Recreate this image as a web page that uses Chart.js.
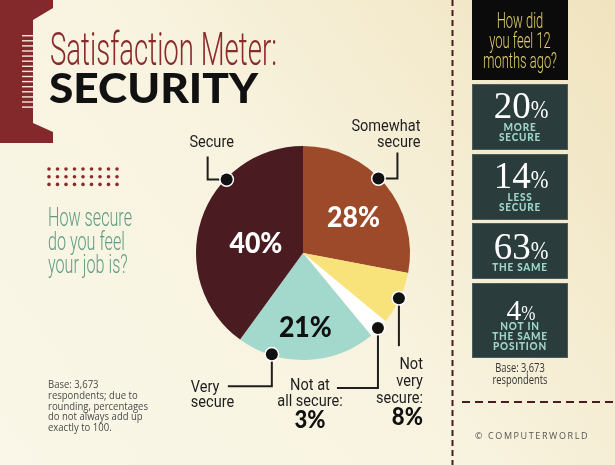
<!doctype html>
<html>

<head>
	<title>Satisfaction Meter: Security</title>
	<script src="https://cdn.jsdelivr.net/npm/chart.js@4"></script>
	<style>
		body { margin: 0; }
		#holder { position: relative; width: 615px; height: 465px; }
	</style>
</head>

<body>
	<div id="holder">
		<canvas id="chart-area" width="615" height="465"></canvas>
	</div>
	<script>
		// pie data, clockwise from 12 o'clock
		var categories = ['Somewhat secure', 'Not very secure', 'Not at all secure', 'Very secure', 'Secure'];
		var shares = [28, 8, 3, 21, 40];
		var sliceColors = ['#9C4A2A', '#F8E27A', '#FFFFFF', '#A3D9CC', '#4A1C22'];
		var calloutText = [['Somewhat', 'secure'], ['Not', 'very', 'secure:'], ['Not at', 'all secure:'], ['Very', 'secure'], ['Secure']];

		// right panel: how did you feel 12 months ago
		var pastValues = [20, 14, 63, 4];
		var pastLabels = [['MORE', 'SECURE'], ['LESS', 'SECURE'], ['THE SAME'], ['NOT IN', 'THE SAME', 'POSITION']];

		function txt(ctx, s, x, y, font, color, align, sx, ls) {
			ctx.save();
			ctx.font = font;
			ctx.fillStyle = color;
			ctx.textAlign = align || 'left';
			ctx.textBaseline = 'alphabetic';
			ctx.letterSpacing = (ls || 0) + 'px';
			ctx.translate(x, y);
			ctx.scale(sx || 1, 1);
			ctx.fillText(s, 0, 0);
			ctx.restore();
		}

		function fit(ctx, s, font, w, ls) {
			ctx.save();
			ctx.font = font;
			ctx.letterSpacing = (ls || 0) + 'px';
			var m = ctx.measureText(s).width;
			ctx.restore();
			return w / m;
		}

		var decor = {
			id: 'decor',
			beforeDraw: function(chart) {
				var ctx = chart.ctx;
				var g = ctx.createLinearGradient(615, 0, 0, 465);
				g.addColorStop(0, '#F0E3BE');
				g.addColorStop(0.5, '#F8F3DF');
				g.addColorStop(1, '#FAF7E8');
				ctx.fillStyle = g;
				ctx.fillRect(0, 0, 615, 465);

				// red band at left
				ctx.fillStyle = '#84292B';
				ctx.beginPath();
				ctx.moveTo(0, 0); ctx.lineTo(53, 0); ctx.lineTo(53, 8); ctx.lineTo(33, 20);
				ctx.lineTo(33, 123); ctx.lineTo(53, 132); ctx.lineTo(53, 143); ctx.lineTo(0, 143);
				ctx.closePath();
				ctx.fill();
				ctx.fillStyle = '#F5E9DC';
				for (var i = 0; i < 15; i++) {
					ctx.fillRect(22, 35 + i * 5.1, 11, 1.4);
				}

				// dot grid
				ctx.fillStyle = '#8A2A2A';
				for (var r = 0; r < 3; r++) {
					for (var c = 0; c < 9; c++) {
						ctx.beginPath();
						ctx.arc(49 + c * 8.5, 169 + r * 7.7, 1.8, 0, Math.PI * 2);
						ctx.fill();
					}
				}

				// titles
				txt(ctx, 'Satisfaction Meter:', 50, 65, '300 46px Roboto', '#8A2A2A', 'left', fit(ctx, 'Satisfaction Meter:', '300 46px Roboto', 227));
				txt(ctx, 'SECURITY', 49, 103, '900 41px Lato', '#111111', 'left', fit(ctx, 'SECURITY', '900 41px Lato', 209));

				var qf = '300 26px Roboto';
				var qs = fit(ctx, 'How secure', qf, 84);
				txt(ctx, 'How secure', 48, 226, qf, '#5F9B82', 'left', qs);
				txt(ctx, 'do you feel', 48, 250, qf, '#5F9B82', 'left', qs);
				txt(ctx, 'your job is?', 48, 273, qf, '#5F9B82', 'left', qs);

				var bf = '11.5px "Open Sans"';
				var bs = fit(ctx, 'rounding, percentages', bf, 100);
				var base = ['Base: 3,673', 'respondents; due to', 'rounding, percentages', 'do not always add up', 'exactly to 100.'];
				base.forEach(function(l, k) {
					txt(ctx, l, 48, 388 + k * 10.8, bf, '#4A4A4A', 'left', bs);
				});

				// right panel
				ctx.save();
				ctx.strokeStyle = '#4A1C22';
				ctx.lineWidth = 2;
				ctx.setLineDash([6, 4]);
				ctx.beginPath(); ctx.moveTo(452.5, 0); ctx.lineTo(452.5, 465); ctx.stroke();
				ctx.setLineDash([8, 5]);
				ctx.beginPath(); ctx.moveTo(462, 402); ctx.lineTo(615, 402); ctx.stroke();
				ctx.restore();

				ctx.fillStyle = '#0B0B0B';
				ctx.fillRect(472, 0, 96, 80);
				var hf = '300 22px Roboto';
				var hs = fit(ctx, 'months ago?', hf, 74);
				txt(ctx, 'How did', 520, 28, hf, '#E3D06C', 'center', hs);
				txt(ctx, 'you feel 12', 520, 48, hf, '#E3D06C', 'center', hs);
				txt(ctx, 'months ago?', 520, 68, hf, '#E3D06C', 'center', hs);

				var boxTop = [84, 154, 223, 283];
				var boxBottom = [150, 220, 279, 358];
				var numBase = [118, 188, 259, 320];
				var subBase = [131, 201, 271, 330];
				pastValues.forEach(function(v, k) {
					ctx.fillStyle = '#2A3C3C';
					ctx.fillRect(472, boxTop[k], 96, boxBottom[k] - boxTop[k]);
					ctx.strokeStyle = '#4C5E5C';
					ctx.lineWidth = 1;
					ctx.strokeRect(472.5, boxTop[k] + 0.5, 95, boxBottom[k] - boxTop[k] - 1);
					var scale = k === 3 ? 0.8 : 1;
					var df = (37 * scale) + 'px "Liberation Serif"';
					var pf = (25 * scale) + 'px "Liberation Serif"';
					ctx.font = df;
					var wd = ctx.measureText(String(v)).width;
					ctx.font = pf;
					var wp = ctx.measureText('%').width * 0.85;
					var x0 = 521 - (wd + wp) / 2;
					txt(ctx, String(v), x0, numBase[k], df, '#FFFFFF', 'left');
					txt(ctx, '%', x0 + wd, numBase[k], pf, '#FFFFFF', 'left', 0.85);
					pastLabels[k].forEach(function(l, j) {
						txt(ctx, l, 520, subBase[k] + j * 10, '900 10.5px Lato', '#9ED5C8', 'center', 0.95, 0.8);
					});
				});
				var rf = '12.5px "Open Sans"';
				var rs = fit(ctx, 'respondents', rf, 55);
				txt(ctx, 'Base: 3,673', 520, 372, rf, '#333333', 'center', rs);
				txt(ctx, 'respondents', 520, 384, rf, '#333333', 'center', rs);
				txt(ctx, '\u00A9 COMPUTERWORLD', 475, 439, '9px "Open Sans"', '#555555', 'left', 1, 1.6);
			},
			afterDatasetsDraw: function(chart, args, opts) {
				var ctx = chart.ctx;
				var arcs = chart.getDatasetMeta(0).data;
				var lf = '16.5px Roboto';
				var ls = fit(ctx, 'Somewhat', lf, 69);

				// value labels inside slices
				opts.inside.forEach(function(s) {
					var a = arcs[s.i];
					var ang = a.startAngle + (a.endAngle - a.startAngle) * s.f;
					var x = a.x + Math.cos(ang) * a.outerRadius * s.r;
					var y = a.y + Math.sin(ang) * a.outerRadius * s.r;
					txt(ctx, shares[s.i] + '%', x, y + 10, '900 28px Lato', s.c, 'center', 0.95);
				});

				// callouts with dots and leader lines
				opts.callouts.forEach(function(s) {
					var a = arcs[s.i];
					var ang = a.startAngle + (a.endAngle - a.startAngle) * s.f;
					var x = a.x + Math.cos(ang) * (a.outerRadius - 1);
					var y = a.y + Math.sin(ang) * (a.outerRadius - 1);
					var ex = x, ey = y;
					ctx.save();
					ctx.strokeStyle = '#1E1E1E';
					ctx.lineWidth = 2;
					ctx.beginPath();
					ctx.moveTo(x, y);
					s.path.forEach(function(p) {
						ex += p[0]; ey += p[1];
						ctx.lineTo(ex, ey);
					});
					ctx.stroke();
					ctx.beginPath();
					ctx.arc(x, y, 7.5, 0, Math.PI * 2);
					ctx.fillStyle = '#FFFFFF';
					ctx.fill();
					ctx.beginPath();
					ctx.arc(x, y, 6, 0, Math.PI * 2);
					ctx.fillStyle = '#111111';
					ctx.fill();
					ctx.restore();
					var lines = calloutText[s.i];
					lines.forEach(function(l, j) {
						txt(ctx, l, ex + s.dx, ey + s.dy + j * s.lh, lf, '#1E1E1E', s.align, ls);
					});
					if (s.pct) {
						txt(ctx, shares[s.i] + '%', ex + s.dx, ey + s.dy + (lines.length - 1) * s.lh + 22, '900 24px Lato', '#111111', s.align, 0.92);
					}
				});
			}
		};

		var config = {
			type: 'pie',
			data: {
				labels: categories,
				datasets: [{
					data: shares,
					backgroundColor: sliceColors,
					borderWidth: 0
				}]
			},
			options: {
				responsive: false,
				animation: false,
				events: [],
				layout: {
					padding: { left: 196, right: 205, top: 146, bottom: 105 }
				},
				plugins: {
					legend: { display: false },
					tooltip: { enabled: false },
					decor: {
						inside: [
							{ i: 4, f: 0.46, r: 0.45, c: '#FFFFFF' },
							{ i: 0, f: 0.54, r: 0.58, c: '#FFFFFF' },
							{ i: 3, f: 0.5, r: 0.69, c: '#111111' }
						],
						callouts: [
							{ i: 0, f: 0.45, path: [[19, 0], [0, -26]], dx: 23, dy: -22, lh: 16, align: 'right' },
							{ i: 1, f: 0.5, path: [[0, 48]], dx: 24, dy: 23, lh: 17, align: 'right', pct: true },
							{ i: 2, f: 0.5, path: [[0, 60], [-41, 0]], dx: -27, dy: 2, lh: 16, align: 'center', pct: true },
							{ i: 3, f: 0.75, path: [[0, 32], [-44, 0]], dx: -37, dy: 6, lh: 15, align: 'left' },
							{ i: 4, f: 0.68, path: [[-19, 0], [0, -23]], dx: 4, dy: -9, lh: 16, align: 'center' }
						]
					}
				}
			},
			plugins: [decor]
		};

		window.onload = function() {
			var ctx = document.getElementById('chart-area').getContext('2d');
			window.myPie = new Chart(ctx, config);
		};
	</script>
</body>

</html>
